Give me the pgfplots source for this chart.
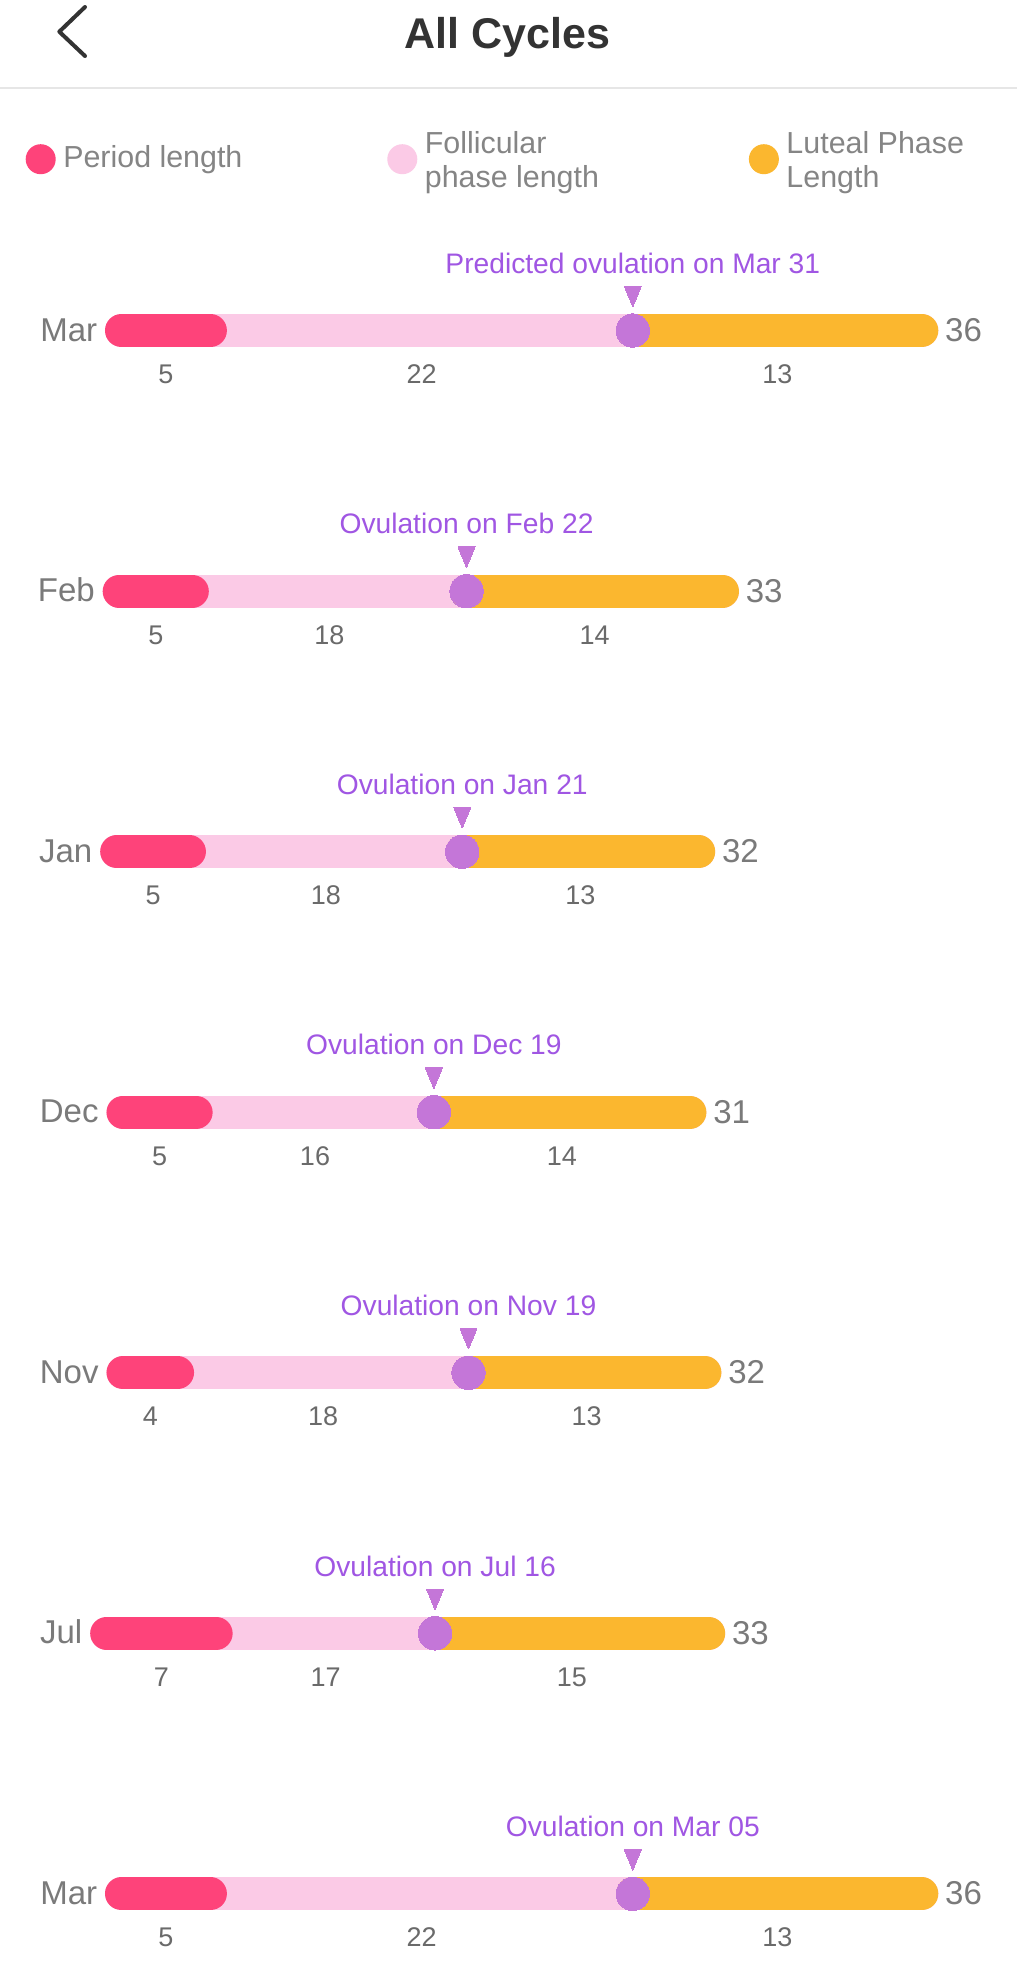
\documentclass[border=0pt]{standalone}
\usepackage{fontspec}
\setmainfont{Liberation Sans}
\usepackage{pgfplots}
\pgfplotsset{compat=1.18}
\usepackage{array}

\definecolor{periodc}{HTML}{FE437A}
\definecolor{follc}{HTML}{FBCAE6}
\definecolor{lutc}{HTML}{FBB72F}
\definecolor{ovulc}{HTML}{C476D8}
\definecolor{purplec}{HTML}{A056E3}
\definecolor{titlec}{HTML}{333333}
\definecolor{leggray}{HTML}{858585}
\definecolor{mongray}{HTML}{7A7A7A}
\definecolor{numgray}{HTML}{6A6A6A}
\definecolor{sepc}{HTML}{E6E6E6}

\pgfplotsset{
  rowaxis/.style={scale only axis, height=16.5pt, anchor=west, hide axis,
    xmin=0, ymin=-1, ymax=1, clip=false},
  seg/.style={line width=16.5pt, line cap=round, mark=none},
}

% #1 y centre (px), #2 bar left (px), #3 bar right (px), #4 cycle length,
% #5 period length, #6 follicular length, #7 luteal length, #8 month, #9 ovulation text
\newcommand{\cyclerow}[9]{%
  \pgfmathsetlengthmacro\rx{(#2+16.5)*0.5pt}%
  \pgfmathsetlengthmacro\ry{-#1*0.5pt}%
  \pgfmathsetlengthmacro\rw{(#3-#2-33)*0.5pt}%
  \pgfmathtruncatemacro\ov{#4-#7}%
  \pgfmathtruncatemacro\pe{#5-1}%
  \pgfmathsetmacro\pl{(#5-1)/2}%
  \pgfmathsetmacro\fl{(#5-1+\ov)/2}%
  \pgfmathsetmacro\tl{(\ov+#4)/2}%
  \begin{axis}[rowaxis, at={(\rx,\ry)}, width=\rw, xmax=#4]
    \addplot[seg, follc] coordinates {(0,0) (#4,0)};
    \addplot[seg, periodc] coordinates {(0,0) (\pe,0)};
    \addplot[seg, lutc] coordinates {(\ov,0) (#4,0)};
    \addplot[only marks, mark=*, mark size=8.35pt, ovulc, mark options={line width=0pt}] coordinates {(\ov,0)};
    \addplot[only marks, mark=triangle*, mark size=4.9pt, ovulc,
      mark options={rotate=180, yscale=1.4, line width=0pt}] coordinates {(\ov,2.27)};
    \node[inner sep=0pt, anchor=base, font=\fontsize{14.1}{16}\selectfont, text=purplec] at (axis cs:\ov,3.47) {#9};
    \node[inner sep=0pt, anchor=base, font=\fontsize{13.5}{15}\selectfont, text=numgray] at (axis cs:\pl,-3.2) {#5};
    \node[inner sep=0pt, anchor=base, font=\fontsize{13.5}{15}\selectfont, text=numgray] at (axis cs:\fl,-3.2) {#6};
    \node[inner sep=0pt, anchor=base, font=\fontsize{13.5}{15}\selectfont, text=numgray] at (axis cs:\tl,-3.2) {#7};
    \node[inner sep=0pt, anchor=base east, font=\fontsize{16.5}{19}\selectfont, text=mongray, xshift=-12pt] at (axis cs:0,-0.64) {#8};
    \node[inner sep=0pt, anchor=base west, font=\fontsize{16.5}{19}\selectfont, text=mongray, xshift=11.5pt] at (axis cs:#4,-0.66) {#4};
  \end{axis}%
}

\begin{document}
\begin{tikzpicture}
\fill[white] (0,0) rectangle (508.5pt,-982.5pt);
\path[use as bounding box] (0,0) rectangle (508.5pt,-982.5pt);

% header
\draw[line width=2pt, line cap=round, line join=round, titlec]
  (42.5pt,-3.5pt) -- (29.65pt,-15.85pt) -- (42.5pt,-28pt);
\node[inner sep=0pt, anchor=base, font=\bfseries\fontsize{21.5}{25}\selectfont, text=titlec] at (253.75pt,-24pt) {All Cycles};
\draw[line width=1pt, sepc] (0pt,-44pt) -- (508.5pt,-44pt);

% legend
\begin{axis}[scale only axis, width=480pt, height=20pt, at={(12.85pt,-75.95pt)}, anchor=west,
  hide axis, xmin=0, xmax=1, ymin=0, ymax=1,
  legend columns=3, legend cell align=left,
  legend image code/.code={\fill[#1] (7.5pt,4.25pt) circle[radius=7.5pt];},
  legend style={at={(0,0.5)}, anchor=west, draw=none, fill=none, inner sep=0pt, outer sep=0pt,
    font=\fontsize{15.2}{17}\selectfont, text=leggray,
    nodes={inner sep=0pt}, cells={anchor=base west},
    /tikz/every odd column/.append style={column sep=3.8pt},
    /tikz/every even column/.append style={column sep=2pt}}]
  \addlegendimage{fill=periodc, draw=none}
  \addlegendentry{\begin{tabular}[t]{@{}p{160pt}@{}}Period length\end{tabular}}
  \addlegendimage{fill=follc, draw=none}
  \addlegendentry{\raisebox{7.15pt}{\begin{tabular}[t]{@{}p{160pt}@{}}Follicular\\phase length\end{tabular}}}
  \addlegendimage{fill=lutc, draw=none}
  \addlegendentry{\raisebox{7.15pt}{\begin{tabular}[t]{@{}p{100pt}@{}}Luteal Phase\\Length\end{tabular}}}
\end{axis}

% cycles
\cyclerow{330.5}{105}{938.3}{36}{5}{22}{13}{Mar}{Predicted ovulation on Mar 31}
\cyclerow{591.2}{102.7}{739}{33}{5}{18}{14}{Feb}{Ovulation on Feb 22}
\cyclerow{851.7}{100.2}{715.2}{32}{5}{18}{13}{Jan}{Ovulation on Jan 21}
\cyclerow{1112.2}{106.5}{706.4}{31}{5}{16}{14}{Dec}{Ovulation on Dec 19}
\cyclerow{1372.7}{106.5}{721.4}{32}{4}{18}{13}{Nov}{Ovulation on Nov 19}
\cyclerow{1633.3}{90.2}{725.2}{33}{7}{17}{15}{Jul}{Ovulation on Jul 16}
\cyclerow{1893.8}{105}{938.3}{36}{5}{22}{13}{Mar}{Ovulation on Mar 05}
\end{tikzpicture}
\end{document}
